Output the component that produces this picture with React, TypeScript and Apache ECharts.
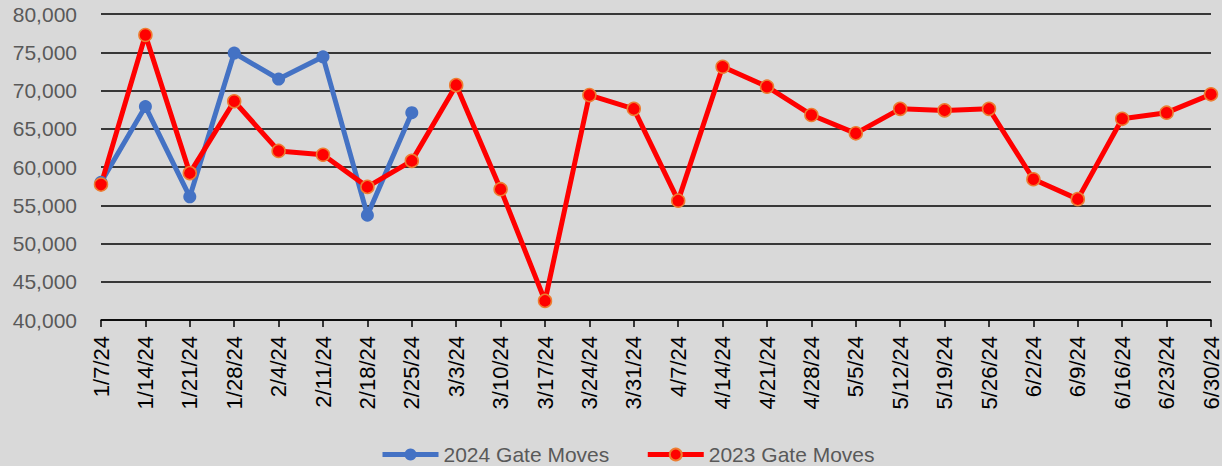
import React, { useEffect, useRef } from "react";
import * as echarts from "echarts";

const categories = [
  "1/7/24", "1/14/24", "1/21/24", "1/28/24", "2/4/24", "2/11/24", "2/18/24", "2/25/24",
  "3/3/24", "3/10/24", "3/17/24", "3/24/24", "3/31/24", "4/7/24", "4/14/24", "4/21/24",
  "4/28/24", "5/5/24", "5/12/24", "5/19/24", "5/26/24", "6/2/24", "6/9/24", "6/16/24",
  "6/23/24", "6/30/24",
];

const moves2024 = [58000, 67900, 56100, 74900, 71500, 74400, 53700, 67100];

const moves2023 = [
  57700, 77250, 59200, 68600, 62100, 61600, 57400, 60800,
  70700, 57100, 42500, 69400, 67600, 55600, 73100, 70500,
  66800, 64400, 67600, 67400, 67600, 58400, 55800, 66300,
  67100, 69500,
];

const FONT = "'Liberation Sans', Arial, sans-serif";

export default function App() {
  const ref = useRef<HTMLDivElement>(null);

  useEffect(() => {
    document.body.style.margin = "0";
    if (!ref.current) return;
    const chart = echarts.init(ref.current, null, { renderer: "svg" });
    chart.setOption({
      animation: false,
      backgroundColor: "#d9d9d9",
      textStyle: { fontFamily: FONT },
      grid: { left: 101, right: 3, top: 14, bottom: 146, containLabel: false },
      legend: {
        left: 375,
        top: 439,
        itemWidth: 56,
        itemHeight: 15,
        itemGap: 36,
        lineStyle: { width: 5 },
        textStyle: { color: "#595959", fontSize: 21, fontFamily: FONT },
        data: ["2024 Gate Moves", "2023 Gate Moves"],
      },
      xAxis: {
        type: "category",
        data: categories,
        boundaryGap: false,
        axisLine: { lineStyle: { color: "#000000", width: 1.5 } },
        axisTick: { show: true, length: 7, interval: 0, lineStyle: { color: "#000000", width: 1.5 } },
        axisLabel: {
          interval: 0,
          rotate: 90,
          margin: 16,
          color: "#000000",
          fontSize: 22,
          fontFamily: FONT,
        },
        splitLine: { show: false },
      },
      yAxis: {
        type: "value",
        min: 40000,
        max: 80000,
        interval: 5000,
        axisLine: { show: false },
        axisTick: { show: false },
        axisLabel: {
          color: "#595959",
          fontSize: 21,
          fontFamily: FONT,
          margin: 24,
          formatter: (v: number) => v.toLocaleString("en-US"),
        },
        splitLine: { lineStyle: { color: "#000000", width: 1.5 } },
      },
      series: [
        {
          name: "2024 Gate Moves",
          type: "line",
          data: moves2024,
          symbol: "circle",
          symbolSize: 13,
          lineStyle: { color: "#4472c4", width: 5 },
          itemStyle: { color: "#4472c4" },
        },
        {
          name: "2023 Gate Moves",
          type: "line",
          data: moves2023,
          symbol: "circle",
          symbolSize: 13,
          lineStyle: { color: "#ff0000", width: 5 },
          itemStyle: { color: "#ff0000", borderColor: "#ed7d31", borderWidth: 1.5 },
        },
      ],
    });
    return () => chart.dispose();
  }, []);

  return <div ref={ref} style={{ width: 1222, height: 466 }} />;
}
